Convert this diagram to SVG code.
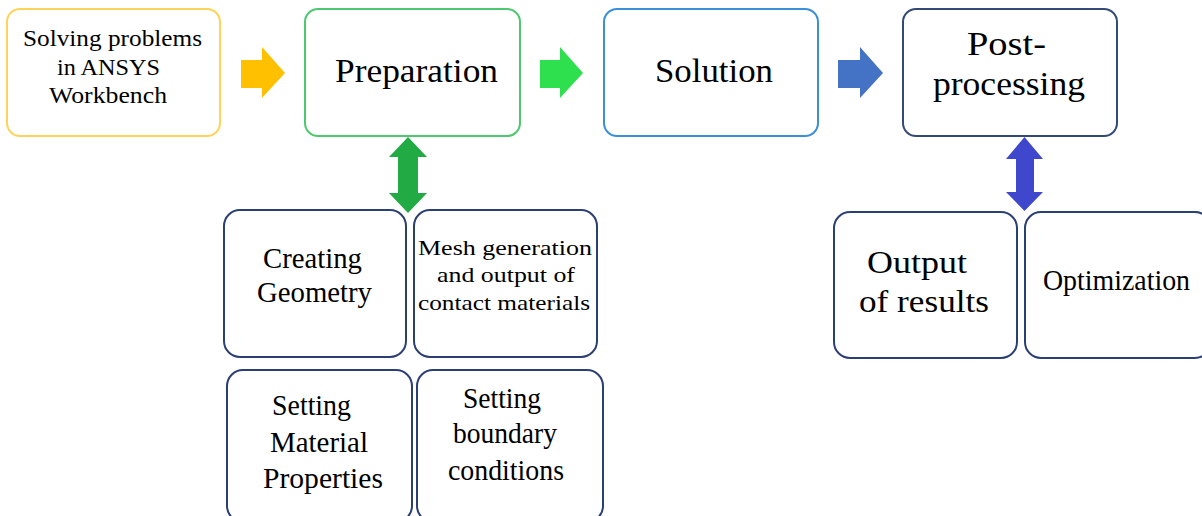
<svg xmlns="http://www.w3.org/2000/svg" width="1202" height="516" viewBox="0 0 1202 516">
<style>
.box{fill:#fff;stroke-width:2}
.sub{fill:#fff;stroke:#2B3F73;stroke-width:2}
text{font-family:"Liberation Serif","Times New Roman","Tinos","Noto Serif","DejaVu Serif",serif;fill:#000}
</style>
<rect width="1202" height="516" fill="#fff"/>
<g id="connectors">
<path d="M241,60 H262 V47 L285,73 L262,98 V88 H241 Z" fill="#FFC000"/>
<path d="M540,60 H560 V47 L583,73 L560,98 V88 H540 Z" fill="#2EE04E"/>
<path d="M838,60 H860 V47 L883,73 L860,98 V88 H838 Z" fill="#4472C4"/>
<path d="M408,137 L427,157 H418 V193 H427 L408,213 L389,193 H398 V157 H389 Z" fill="#22AA44"/>
<path d="M1024.5,137 L1043,159 H1034 V192 H1043 L1024.5,211 L1006,192 H1016 V159 H1006 Z" fill="#3F48CC"/>
</g>
<g id="n-ansys">
<rect class="box" x="7" y="9" width="213" height="127" rx="13" stroke="#FFD35A"/>
<text x="23" y="46" font-size="24" textLength="179" lengthAdjust="spacingAndGlyphs">Solving problems</text>
<text x="57" y="75" font-size="24" textLength="103" lengthAdjust="spacingAndGlyphs">in ANSYS</text>
<text x="49" y="103" font-size="24" textLength="118" lengthAdjust="spacingAndGlyphs">Workbench</text>
</g>
<g id="n-preparation">
<rect class="box" x="305" y="9" width="215" height="127" rx="13" stroke="#4CC870"/>
<text x="335" y="82" font-size="33" textLength="163" lengthAdjust="spacingAndGlyphs">Preparation</text>
</g>
<g id="n-solution">
<rect class="box" x="604" y="9" width="214" height="127" rx="13" stroke="#3A8FD8"/>
<text x="655" y="82" font-size="33" textLength="118" lengthAdjust="spacingAndGlyphs">Solution</text>
</g>
<g id="n-post">
<rect class="box" x="903" y="9" width="214" height="127" rx="13" stroke="#334A74"/>
<text x="967" y="55" font-size="33" textLength="79" lengthAdjust="spacingAndGlyphs">Post-</text>
<text x="933" y="95" font-size="33" textLength="152" lengthAdjust="spacingAndGlyphs">processing</text>
</g>
<g id="n-geometry">
<rect class="sub" x="224" y="210" width="182" height="147" rx="16"/>
<text x="263" y="268" font-size="30" textLength="99" lengthAdjust="spacingAndGlyphs">Creating</text>
<text x="257" y="302" font-size="30" textLength="115" lengthAdjust="spacingAndGlyphs">Geometry</text>
</g>
<g id="n-mesh">
<rect class="sub" x="414" y="210" width="183" height="147" rx="16"/>
<text x="418" y="255" font-size="22" textLength="174" lengthAdjust="spacingAndGlyphs">Mesh generation</text>
<text x="437" y="282" font-size="22" textLength="138" lengthAdjust="spacingAndGlyphs">and output of</text>
<text x="418" y="310" font-size="22" textLength="172" lengthAdjust="spacingAndGlyphs">contact materials</text>
</g>
<g id="n-material">
<rect class="sub" x="227" y="370" width="185" height="152" rx="16"/>
<text x="272" y="415" font-size="29" textLength="79" lengthAdjust="spacingAndGlyphs">Setting</text>
<text x="270" y="452" font-size="29" textLength="98" lengthAdjust="spacingAndGlyphs">Material</text>
<text x="263" y="488" font-size="29" textLength="120" lengthAdjust="spacingAndGlyphs">Properties</text>
</g>
<g id="n-boundary">
<rect class="sub" x="417" y="370" width="186" height="152" rx="16"/>
<text x="463" y="408" font-size="29" textLength="78" lengthAdjust="spacingAndGlyphs">Setting</text>
<text x="453" y="443" font-size="29" textLength="104" lengthAdjust="spacingAndGlyphs">boundary</text>
<text x="448" y="480" font-size="29" textLength="116" lengthAdjust="spacingAndGlyphs">conditions</text>
</g>
<g id="n-output">
<rect class="sub" x="834" y="212" width="183" height="146" rx="16"/>
<text x="867" y="273" font-size="31" textLength="100" lengthAdjust="spacingAndGlyphs">Output</text>
<text x="859" y="312" font-size="31" textLength="130" lengthAdjust="spacingAndGlyphs">of results</text>
</g>
<g id="n-optimization">
<rect class="sub" x="1025" y="212" width="186" height="146" rx="16"/>
<text x="1043" y="290" font-size="29" textLength="147" lengthAdjust="spacingAndGlyphs">Optimization</text>
</g>
</svg>
